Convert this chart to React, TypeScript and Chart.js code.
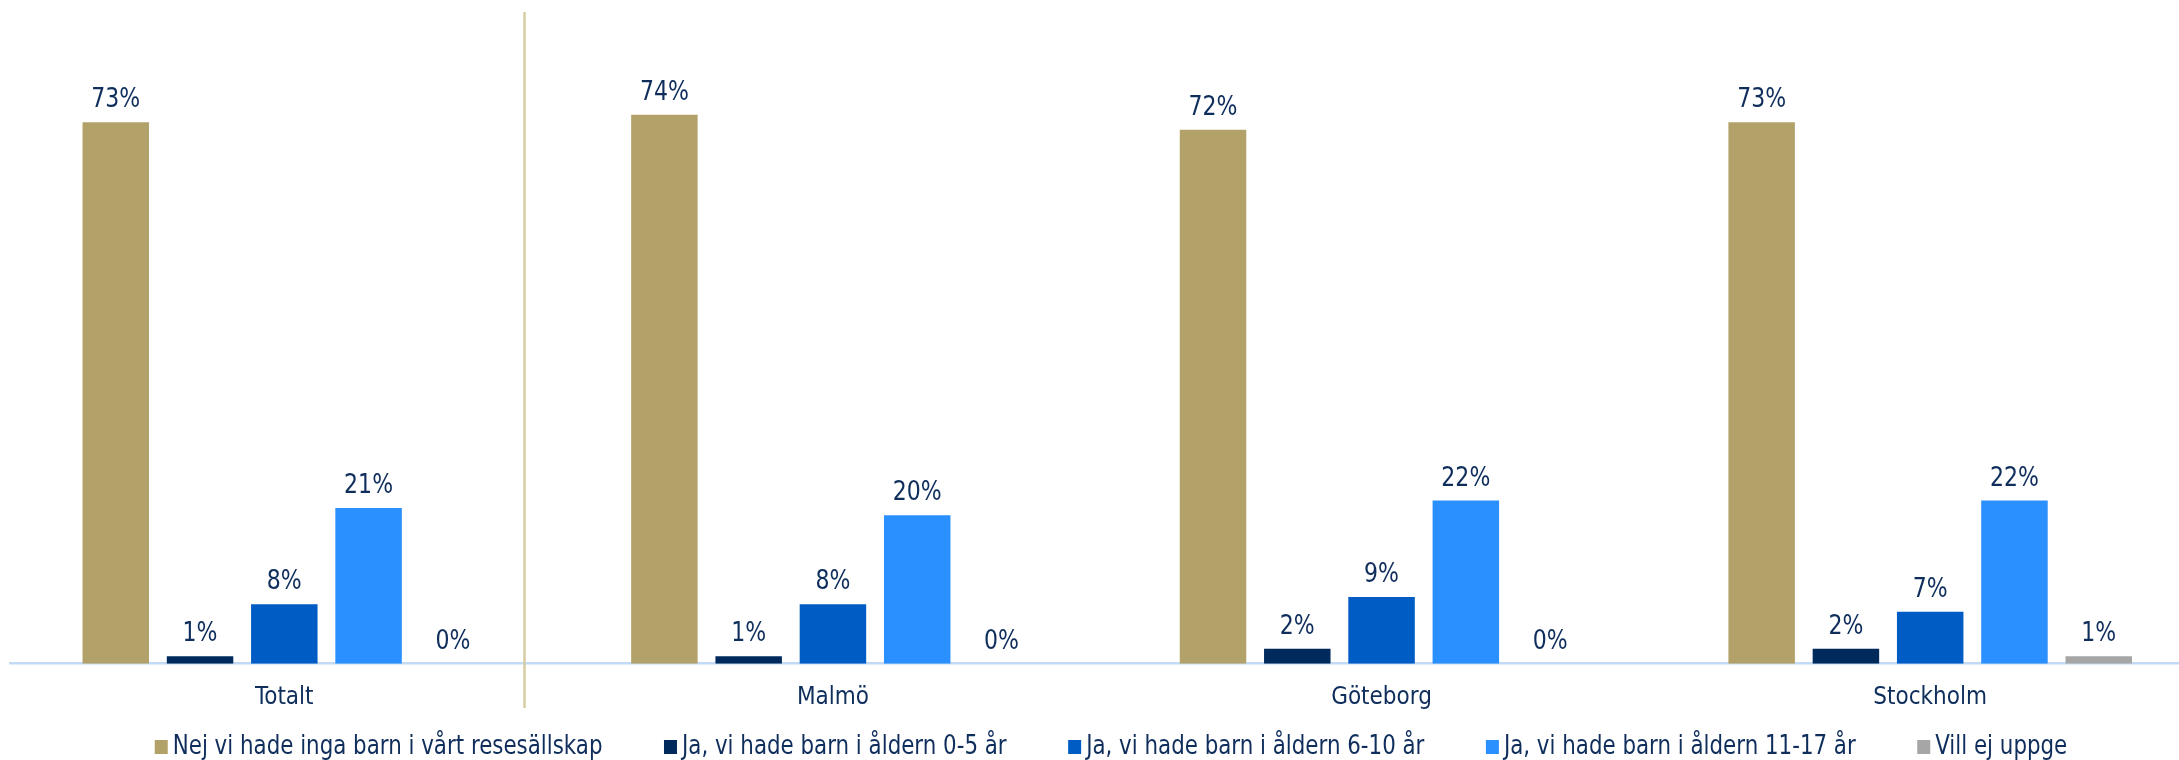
import React, { useEffect, useRef } from "react";
import { Chart, registerables } from "chart.js";

Chart.register(...registerables);

// ---- data ----
const categories = ["Totalt", "Malmö", "Göteborg", "Stockholm"];
const seriesNames = [
  "Nej vi hade inga barn i vårt resesällskap",
  "Ja, vi hade barn i åldern 0-5 år",
  "Ja, vi hade barn i åldern 6-10 år",
  "Ja, vi hade barn i åldern 11-17 år",
  "Vill ej uppge",
];
const nejValues = [73, 74, 72, 73];
const ja05Values = [1, 1, 2, 2];
const ja610Values = [8, 8, 9, 7];
const ja1117Values = [21, 20, 22, 22];
const villEjValues = [0, 0, 0, 1];
const seriesColors = ["#B3A16A", "#002A5C", "#005CC5", "#2A8FFF", "#A6A6A6"];

const TEXT_COLOR = "#0F2E5C";
const FONT_FAMILY = '"DejaVu Sans Condensed", "DejaVu Sans", sans-serif';
const FONT_SIZE = 24;
const CANVAS_W = 2215;
const CANVAS_H = 760;
const TEXT_SY = 1.12;

function drawScaledText(
  ctx: CanvasRenderingContext2D,
  text: string,
  x: number,
  y: number,
  align: CanvasTextAlign,
  sx: number
) {
  ctx.save();
  ctx.translate(x, y);
  ctx.scale(sx, TEXT_SY);
  ctx.textAlign = align;
  ctx.textBaseline = "alphabetic";
  ctx.fillText(text, 0, 0);
  ctx.restore();
}

const valueLabelPlugin = {
  id: "valueLabels",
  afterDatasetsDraw(chart: any) {
    const ctx = chart.ctx;
    ctx.save();
    ctx.font = `${FONT_SIZE}px ${FONT_FAMILY}`;
    ctx.fillStyle = TEXT_COLOR;
    chart.data.datasets.forEach((ds: any, i: number) => {
      const meta = chart.getDatasetMeta(i);
      meta.data.forEach((el: any, j: number) => {
        const v = ds.data[j];
        drawScaledText(ctx, `${Math.round(v)}%`, el.x, el.y - 15, "center", 1.02);
      });
    });
    ctx.restore();
  },
};

const separatorPlugin = {
  id: "separator",
  afterDraw(chart: any) {
    const ctx = chart.ctx;
    const x = chart.chartArea.left + 514.5;
    ctx.save();
    ctx.strokeStyle = "#D6CCA3";
    ctx.lineWidth = 2.5;
    ctx.beginPath();
    ctx.moveTo(x, 12);
    ctx.lineTo(x, 708);
    ctx.stroke();
    ctx.restore();
  },
};

const LEGEND_SX = 0.99;

const legendPlugin = {
  id: "customLegend",
  afterDraw(chart: any) {
    const ctx = chart.ctx;
    ctx.save();
    ctx.font = `${FONT_SIZE}px ${FONT_FAMILY}`;
    const box = 13;
    const boxGap = 5;
    const itemGap = 61.5;
    const items = chart.data.datasets.map((ds: any) => ({
      label: ds.label,
      color: ds.backgroundColor,
      w: ctx.measureText(ds.label).width * LEGEND_SX,
    }));
    const total =
      items.reduce((s: number, it: any) => s + box + boxGap + it.w, 0) +
      itemGap * (items.length - 1);
    let x = 1111 - total / 2;
    const baseline = 754;
    items.forEach((it: any) => {
      ctx.fillStyle = it.color;
      ctx.fillRect(x, 740, box, 14);
      ctx.fillStyle = TEXT_COLOR;
      drawScaledText(ctx, it.label, x + box + boxGap, baseline, "left", LEGEND_SX);
      x += box + boxGap + it.w + itemGap;
    });
    ctx.restore();
  },
};

export default function App() {
  const canvasRef = useRef<HTMLCanvasElement | null>(null);

  useEffect(() => {
    if (!canvasRef.current) return;
    const valueSets = [nejValues, ja05Values, ja610Values, ja1117Values, villEjValues];
    const chart = new Chart(canvasRef.current, {
      type: "bar",
      data: {
        labels: categories,
        datasets: valueSets.map((vals, i) => ({
          label: seriesNames[i],
          data: vals,
          backgroundColor: seriesColors[i],
          borderWidth: 0,
          categoryPercentage: 0.768,
          barPercentage: 0.789,
        })),
      },
      options: {
        animation: false,
        responsive: false,
        devicePixelRatio: 1,
        layout: {
          padding: { top: 11, left: 10, right: 10.5, bottom: 27.5 },
        },
        plugins: {
          legend: { display: false },
          tooltip: { enabled: false },
        },
        scales: {
          x: {
            display: true,
            grid: { display: false, drawTicks: false },
            border: { display: true, color: "#C3DAF5", width: 2.5 },
            ticks: {
              color: TEXT_COLOR,
              font: { family: FONT_FAMILY, size: FONT_SIZE },
              padding: 20,
            },
          },
          y: {
            display: false,
            min: 0,
            max: 88,
          },
        },
      },
      plugins: [valueLabelPlugin, separatorPlugin, legendPlugin],
    });
    return () => chart.destroy();
  }, []);

  return (
    <div
      style={{
        position: "absolute",
        left: 0,
        top: 0,
        width: 2179,
        height: 760,
        overflow: "hidden",
        background: "#ffffff",
      }}
    >
      <canvas
        ref={canvasRef}
        width={CANVAS_W}
        height={CANVAS_H}
        style={{ display: "block", width: CANVAS_W, height: CANVAS_H }}
      />
    </div>
  );
}
